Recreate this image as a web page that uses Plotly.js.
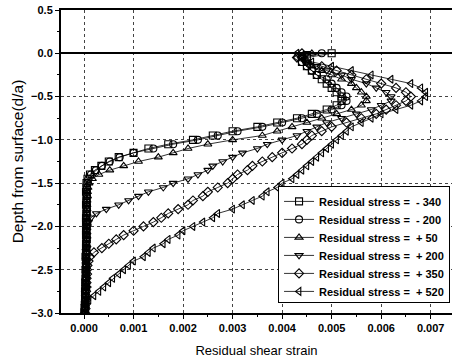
<!DOCTYPE html>
<html>
<head>
<meta charset="utf-8">
<script src="https://cdn.plot.ly/plotly-3.0.1.min.js"></script>
<style>html,body{margin:0;padding:0;background:#fff;}#chart{width:453px;height:361px;}</style>
</head>
<body>
<div id="chart"></div>
<script>
const depth = [0, -0.05, -0.1, -0.15, -0.2, -0.25, -0.3, -0.35, -0.4, -0.45, -0.5, -0.55, -0.6, -0.65, -0.7, -0.75, -0.8, -0.85, -0.9, -0.95, -1.0, -1.05, -1.1, -1.15, -1.2, -1.25, -1.3, -1.35, -1.4, -1.45, -1.5, -1.55, -1.6, -1.65, -1.7, -1.75, -1.8, -1.85, -1.9, -1.95, -2.0, -2.05, -2.1, -2.15, -2.2, -2.25, -2.3, -2.35, -2.4, -2.45, -2.5, -2.55, -2.6, -2.65, -2.7, -2.75, -2.8, -2.85, -2.9, -2.95, -3.0];

const strainM340 = [0.0050, 0.0045, 0.0044, 0.0045, 0.0046, 0.0047, 0.0048, 0.0049, 0.0050, 0.0051, 0.0052, 0.0052, 0.0051, 0.0049, 0.0046, 0.0043, 0.0039, 0.0035, 0.0030, 0.0026, 0.0022, 0.0017, 0.0013, 0.0010, 0.0007, 0.0005, 0.00035, 0.00022, 0.00012, 0.00007, 0.00005, 0.00005, 0.00004, 0.00005, 0.00005, 0.00004, 0.00005, 0.00005, 0.00004, 0.00004, 0.00005, 0.00004, 0.00004, 0.00005, 0.00004, 0.00004, 0.00004, 0.00003, 0.00004, 0.00004, 0.00003, 0.00004, 0.00003, 0.00003, 0.00003, 0.00002, 0.00003, 0.00002, 0.00002, 0.00001, 0.00001];
const strainM200 = [0.0048, 0.0044, 0.0044, 0.0045, 0.0046, 0.0047, 0.0049, 0.0050, 0.0051, 0.0052, 0.0053, 0.0053, 0.0052, 0.0050, 0.0047, 0.0044, 0.0040, 0.0036, 0.0031, 0.0027, 0.0023, 0.0018, 0.0014, 0.0010, 0.00072, 0.00052, 0.00036, 0.00024, 0.00014, 0.00009, 0.00007, 0.00006, 0.00006, 0.00006, 0.00005, 0.00006, 0.00006, 0.00005, 0.00005, 0.00006, 0.00005, 0.00005, 0.00005, 0.00005, 0.00004, 0.00005, 0.00005, 0.00004, 0.00004, 0.00005, 0.00004, 0.00004, 0.00004, 0.00003, 0.00004, 0.00003, 0.00003, 0.00003, 0.00002, 0.00002, 0.00002];
const strainP50 = [0.0046, 0.0044, 0.0045, 0.0046, 0.0048, 0.0050, 0.0052, 0.0054, 0.0055, 0.0056, 0.0057, 0.0057, 0.0056, 0.0054, 0.0051, 0.0048, 0.0045, 0.0042, 0.0039, 0.0036, 0.0030, 0.0025, 0.0021, 0.0018, 0.0015, 0.0011, 0.0008, 0.00052, 0.0003, 0.00017, 0.0001, 0.00008, 0.00007, 0.00007, 0.00006, 0.00006, 0.00006, 0.00006, 0.00005, 0.00006, 0.00005, 0.00005, 0.00005, 0.00005, 0.00005, 0.00004, 0.00005, 0.00004, 0.00004, 0.00004, 0.00004, 0.00004, 0.00003, 0.00004, 0.00003, 0.00003, 0.00003, 0.00002, 0.00003, 0.00002, 0.00001];
const strainP200 = [0.0045, 0.0044, 0.0045, 0.0047, 0.0049, 0.0052, 0.0054, 0.0057, 0.0059, 0.0061, 0.0062, 0.0062, 0.0060, 0.0058, 0.0055, 0.0052, 0.0049, 0.0047, 0.0045, 0.0043, 0.0040, 0.0037, 0.0035, 0.0032, 0.0030, 0.0028, 0.0026, 0.0025, 0.0023, 0.0021, 0.0018, 0.0016, 0.0013, 0.0011, 0.0009, 0.0007, 0.00045, 0.00025, 0.00014, 0.00009, 0.00007, 0.00006, 0.00006, 0.00006, 0.00005, 0.00006, 0.00005, 0.00005, 0.00005, 0.00004, 0.00005, 0.00004, 0.00004, 0.00004, 0.00003, 0.00004, 0.00003, 0.00003, 0.00002, 0.00003, 0.00002];
const strainP350 = [0.0044, 0.0043, 0.0045, 0.0048, 0.0051, 0.0054, 0.0057, 0.0060, 0.0063, 0.0065, 0.0066, 0.0065, 0.0063, 0.0061, 0.0059, 0.0056, 0.0053, 0.0050, 0.0048, 0.0046, 0.0045, 0.0044, 0.0042, 0.0040, 0.0038, 0.0036, 0.0034, 0.0033, 0.0031, 0.0030, 0.0029, 0.0027, 0.0025, 0.0024, 0.0022, 0.0021, 0.0019, 0.0017, 0.00156, 0.0014, 0.0012, 0.0010, 0.0008, 0.00065, 0.0005, 0.00036, 0.0002, 0.00012, 0.00009, 0.00007, 0.00006, 0.00006, 0.00005, 0.00005, 0.00005, 0.00004, 0.00004, 0.00004, 0.00003, 0.00003, 0.00002];
const strainP520 = [0.0043, 0.0043, 0.0046, 0.0050, 0.0054, 0.0058, 0.0062, 0.0066, 0.0068, 0.0069, 0.0069, 0.0068, 0.0066, 0.0063, 0.0060, 0.0058, 0.0056, 0.0054, 0.0053, 0.0052, 0.0051, 0.0050, 0.0049, 0.0048, 0.0047, 0.0046, 0.0045, 0.0044, 0.0043, 0.0042, 0.0040, 0.0039, 0.0037, 0.0036, 0.0034, 0.0032, 0.0030, 0.0027, 0.0026, 0.0024, 0.0022, 0.0020, 0.0019, 0.0017, 0.0016, 0.0014, 0.0013, 0.0012, 0.0010, 0.0009, 0.0008, 0.0007, 0.00058, 0.0005, 0.0004, 0.0003, 0.0002, 0.0001, 0.00005, 0.00003, 0.00002];

const seriesNames = ['Residual stress =\u00a0\u00a0- 340', 'Residual stress =\u00a0\u00a0- 200', 'Residual stress =\u00a0\u00a0+ 50', 'Residual stress =\u00a0\u00a0+ 200', 'Residual stress =\u00a0\u00a0+ 350', 'Residual stress =\u00a0\u00a0+ 520'];
const seriesValues = [strainM340, strainM200, strainP50, strainP200, strainP350, strainP520];
const symbols = ['square-open', 'circle-open', 'triangle-up-open', 'triangle-down-open', 'diamond-open', 'triangle-left-open'];

const traces = seriesValues.map((vals, i) => ({
  x: vals, y: depth, type: 'scatter', mode: 'lines+markers', name: seriesNames[i],
  line: {color: '#000', width: 0.8},
  marker: {symbol: symbols[i], size: 7, color: '#000', line: {color: '#000', width: 1.1}}
}));

const fam = 'Liberation Sans, Arial, sans-serif';
const layout = {
  width: 453, height: 361,
  margin: {l: 61, r: 1, t: 10, b: 48},
  paper_bgcolor: '#fff', plot_bgcolor: '#fff',
  font: {family: fam, color: '#000'},
  showlegend: true,
  legend: {x: 0.995, y: 0.03, xanchor: 'right', yanchor: 'bottom', bordercolor: '#000', borderwidth: 1,
    bgcolor: '#fff', font: {family: fam, size: 11, weight: 'bold', color: '#000'}, tracegroupgap: 0, itemwidth: 30},
  xaxis: {
    range: [-0.000465, 0.00743], tickvals: [0, 0.001, 0.002, 0.003, 0.004, 0.005, 0.006, 0.007],
    tickformat: '.3f', ticks: 'outside', ticklen: 4, tickwidth: 1, tickcolor: '#000',
    showline: true, linecolor: '#000', linewidth: 2, mirror: true,
    showgrid: true, gridcolor: '#444', griddash: 'dot', gridwidth: 1, zeroline: false,
    minor: {dtick: 0.0005, ticks: 'outside', ticklen: 2, tickcolor: '#000', showgrid: false},
    tickfont: {family: fam, size: 11, weight: 'bold'},
    title: {text: 'Residual shear strain', font: {family: fam, size: 13}, standoff: 13}
  },
  yaxis: {
    range: [-3.0, 0.5], dtick: 0.5, tick0: 0, tickformat: '.1f',
    ticks: 'outside', ticklen: 4, tickwidth: 1, tickcolor: '#000',
    showline: true, linecolor: '#000', linewidth: 2, mirror: false,
    showgrid: true, gridcolor: '#444', griddash: 'dot', gridwidth: 1,
    zeroline: true, zerolinecolor: '#000', zerolinewidth: 2,
    minor: {dtick: 0.25, ticks: 'outside', ticklen: 2, tickcolor: '#000', showgrid: false},
    tickfont: {family: fam, size: 11, weight: 'bold'},
    title: {text: 'Depth from surface(d/a)', font: {family: fam, size: 15.5}, standoff: 4}
  }
};

const gd = document.getElementById('chart');
Plotly.newPlot(gd, traces, layout, {displayModeBar: false, staticPlot: true}).then(() => {
  // tighten legend row spacing to match the reference
  const leg = gd.querySelector('.legend');
  if (!leg) return;
  const items = Array.from(leg.querySelectorAll('.traces'));
  const parse = (t) => { const m = /translate\(\s*([-\d.e]+)[ ,]+([-\d.e]+)/.exec(t || ''); return m ? [parseFloat(m[1]), parseFloat(m[2])] : [0, 0]; };
  if (items.length < 2) return;
  const p0 = parse(items[0].getAttribute('transform'));
  const p1 = parse(items[1].getAttribute('transform'));
  const oldStep = p1[1] - p0[1];
  const newStep = 18;
  items.forEach((g, i) => {
    const p = parse(g.getAttribute('transform'));
    g.setAttribute('transform', 'translate(' + p[0] + ',' + (p0[1] + i * newStep) + ')');
  });
  const bg = leg.querySelector('rect.bg');
  const oldH = parseFloat(bg.getAttribute('height'));
  const newH = oldH - (oldStep - newStep) * (items.length - 1) - 4;
  bg.setAttribute('height', newH);
  const lp = parse(leg.getAttribute('transform'));
  leg.setAttribute('transform', 'translate(' + lp[0] + ',' + (lp[1] + (oldH - newH) - 1) + ')');
});
</script>
</body>
</html>
